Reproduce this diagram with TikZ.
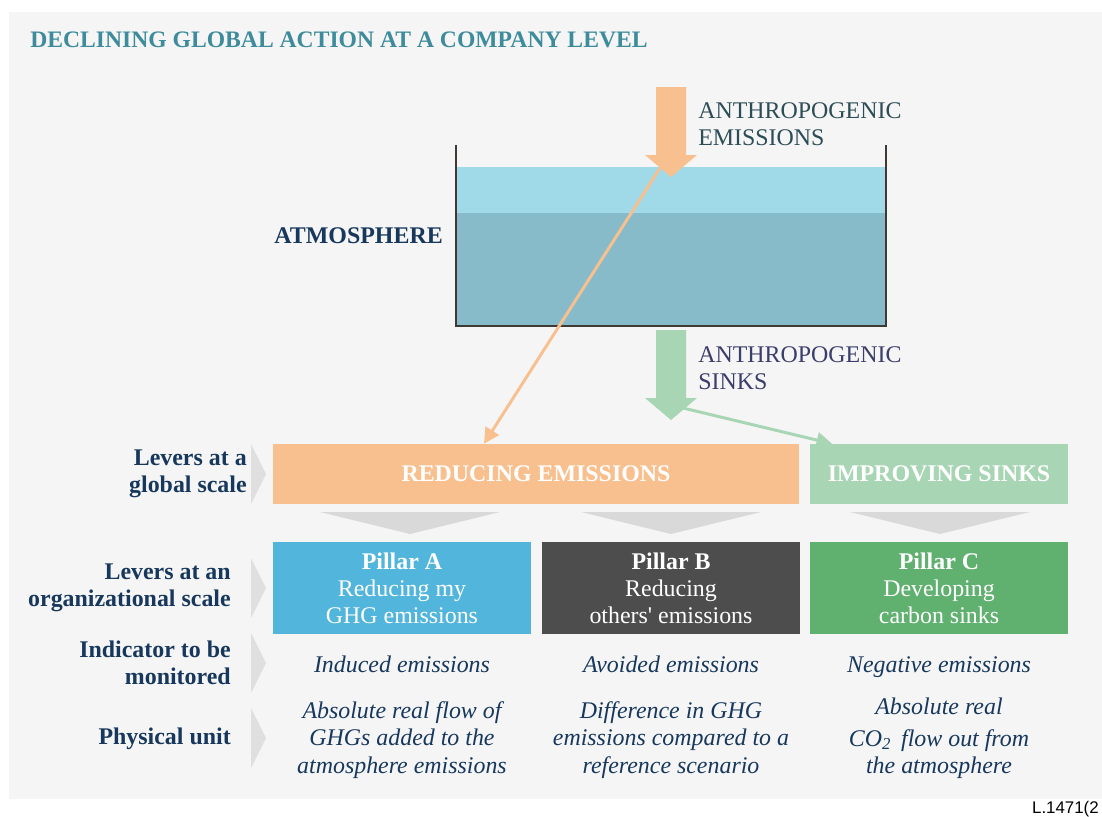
\documentclass[tikz,border=0pt]{standalone}
\usepackage{fontspec}
\setmainfont{Liberation Serif}
\setsansfont{Liberation Sans}
\usepackage{xcolor}
\usetikzlibrary{arrows.meta,calc,positioning}
\definecolor{paneltint}{HTML}{F5F5F5}
\definecolor{titleteal}{HTML}{3E8C9B}
\definecolor{navy}{HTML}{17385C}
\definecolor{emistext}{HTML}{2D4D56}
\definecolor{sinktext}{HTML}{3B3D6B}
\definecolor{emisorange}{HTML}{F9C08F}
\definecolor{sinkgreen}{HTML}{A8D5B4}
\definecolor{airlight}{HTML}{A0DAE9}
\definecolor{airdark}{HTML}{87BBC9}
\definecolor{tankwall}{HTML}{3F3935}
\definecolor{pillarblue}{HTML}{52B5DB}
\definecolor{pillargrey}{HTML}{4D4D4D}
\definecolor{pillargreen}{HTML}{60B06F}
\definecolor{softgrey}{HTML}{D9D9D9}
\tikzset{
	txt/.style={inner sep=0pt, font=\fontsize{17}{19.3}\selectfont},
	rowlabel/.style={txt, text=navy, align=right, anchor=east,
			font=\fontsize{17}{19.3}\selectfont\bfseries},
	lever/.style={inner sep=0pt, minimum height=1.5cm, text=white,
			font=\fontsize{17}{19.3}\selectfont\bfseries},
	pillar/.style={inner sep=0pt, minimum width=6.45cm, minimum height=2.275cm,
			text=white, align=center, font=\fontsize{17}{19.3}\selectfont},
	measure/.style={txt, text=navy, align=center,
			font=\fontsize{17}{19.3}\selectfont\itshape},
	flow/.style={line width=2.1pt, -{Triangle[length=11pt,width=11pt]}}
}
\begin{document}
\begin{tikzpicture}[x=0.025cm, y=-0.025cm]

			\useasboundingbox (0,0) rectangle (1102,816);
			\fill[paneltint] (9,12) rectangle (1102,799);

			\node[txt, anchor=base west, text=titleteal, font=\fontsize{16.8}{19}\selectfont\bfseries] (title) at (30,47) {DECLINING GLOBAL ACTION AT A COMPANY LEVEL};

			% The atmosphere tank
			\fill[airlight] (456,167) rectangle (886,213);
			\fill[airdark] (456,213) rectangle (886,326);
			\draw[tankwall, line width=2.1pt] (456,145) -- (456,326) -- (886,326) -- (886,145);
			\node[rowlabel] (atmo) at (443,236) {ATMOSPHERE};

			% Flows in and out
			\fill[emisorange] (656,87) -- (686,87) -- (686,155) -- (697,155) -- (671,177) -- (645,155) -- (656,155) -- cycle;
			\coordinate (emisout) at (660,168);
			\node[txt, anchor=west, align=left, text=emistext] (emislabel) at (698,124) {ANTHROPOGENIC\\EMISSIONS};
			\fill[sinkgreen] (656,330) -- (686,330) -- (686,398) -- (697,398) -- (671,420) -- (645,398) -- (656,398) -- cycle;
			\coordinate (sinkout) at (683,408);
			\node[txt, anchor=west, align=left, text=sinktext] (sinklabel) at (698,368) {ANTHROPOGENIC\\SINKS};

			% Levers at a global scale
			\node[lever, fill=emisorange, minimum width=13.15cm] (reduce) at (536,474) {REDUCING EMISSIONS};
			\node[lever, fill=sinkgreen, minimum width=6.45cm] (improve) at (939,474) {IMPROVING SINKS};
			\draw[flow, emisorange] (emisout) -- ($(reduce.north)+(-52,0)$);
			\draw[flow, sinkgreen] (sinkout) -- ($(improve.north)+(-107,0)$);

			\foreach \cx in {410,671,940}
				\fill[softgrey] (\cx-90,512) -- (\cx+90,512) -- (\cx,534) -- cycle;

			% Pillars
			\node[pillar, fill=pillarblue] (pillarA) at (402,588) {\textbf{Pillar A}\\Reducing my\\GHG emissions};
			\node[pillar, fill=pillargrey] (pillarB) at (671,588) {\textbf{Pillar B}\\Reducing\\others\textquotesingle{} emissions};
			\node[pillar, fill=pillargreen] (pillarC) at (939,588) {\textbf{Pillar C}\\Developing\\carbon sinks};

			% Row labels
			\foreach \cy in {474,588,663,738}
				\fill[softgrey!80!paneltint] (251,\cy-30) -- (266,\cy) -- (251,\cy+30) -- cycle;
			\node[rowlabel] (global) at (247,474) {Levers at a\\global scale};
			\node[rowlabel] (organ) at (231,588) {Levers at an\\organizational scale};
			\node[rowlabel] (indic) at (231,663) {Indicator to be\\monitored};
			\node[rowlabel] (unit) at (231,739) {Physical unit};

			% Indicators and units
			\node[measure, anchor=base] (induced) at (402,672) {Induced emissions};
			\node[measure, anchor=base] (avoided) at (671,672) {Avoided emissions};
			\node[measure, anchor=base] (negative) at (939,672) {Negative emissions};
			\node[measure] (unitA) at (402,740) {Absolute real flow of\\GHGs added to the\\atmosphere emissions};
			\node[measure] (unitB) at (671,740) {Difference in GHG\\emissions compared to a\\reference scenario};
			\node[measure] (unitC) at (939,738) {Absolute real\\[3.5pt]CO\textsubscript{2}\, flow out from\\the atmosphere};

			\node[txt, anchor=base east, font=\sffamily\fontsize{12}{14}\selectfont] (ref) at (1099,813) {L.1471(2};

		\end{tikzpicture}
\end{document}
